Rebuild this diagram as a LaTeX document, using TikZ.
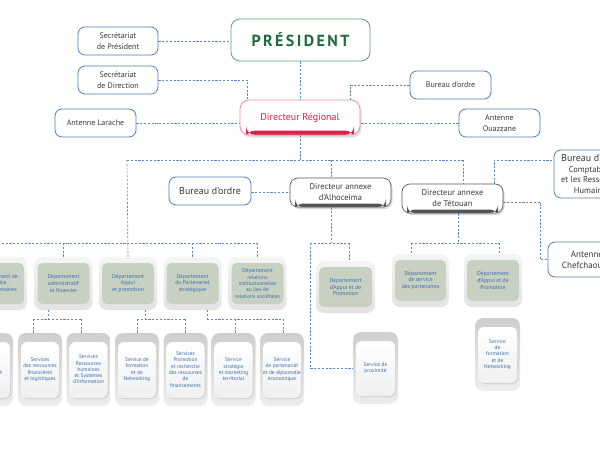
\documentclass[tikz,border=0pt]{standalone}
\usepackage{fontspec}
\setmainfont{PT Sans}
\newfontfamily\presfont[LetterSpace=15]{PT Sans}
\usetikzlibrary{shadows}
\definecolor{connc}{HTML}{5B8BC0}
\definecolor{boxb}{HTML}{4F7FB5}
\definecolor{txtd}{HTML}{3A3A3A}
\definecolor{presg}{HTML}{1B6B3C}
\definecolor{presb}{HTML}{5FA37A}
\definecolor{drred}{HTML}{D8244A}
\definecolor{drpink}{HTML}{EC8FA2}
\definecolor{anx}{HTML}{555555}
\definecolor{deptg}{HTML}{C8D0C2}
\definecolor{dtxt}{HTML}{3C6EA8}
\tikzset{
 conn/.style={draw=connc, line width=0.65pt, dash pattern=on 2.2pt off 1.6pt},
 bluebox/.style={draw=boxb, line width=0.8pt, rounded corners=7pt, fill=white, align=center, text=txtd, font=\fontsize{8}{10.5}\selectfont, inner sep=1pt, minimum width=80pt, minimum height=28pt},
 presstyle/.style={draw=presb, line width=0.8pt, rounded corners=9pt, fill=white, text=presg, font=\presfont\fontsize{16}{18}\selectfont\bfseries, minimum width=139pt, minimum height=42pt},
 drstyle/.style={draw=drpink, line width=0.8pt, rounded corners=9pt, fill=white, text=drred, font=\fontsize{10}{12}\selectfont, minimum width=120pt, minimum height=35pt, drop shadow={opacity=0.25, shadow xshift=1.5pt, shadow yshift=-2.5pt}, path picture={\fill[drred] ([shift={(6pt,0pt)}]path picture bounding box.south west) rectangle ([shift={(-6pt,4.5pt)}]path picture bounding box.south east);}},
 anxstyle/.style={draw=gray!70!black, line width=0.7pt, rounded corners=8pt, fill=white, text=txtd, align=center, font=\fontsize{8.5}{11}\selectfont, minimum width=101pt, minimum height=29pt, drop shadow={opacity=0.3, shadow xshift=1.5pt, shadow yshift=-2pt}, path picture={\fill[anx] ([shift={(5pt,0pt)}]path picture bounding box.south west) rectangle ([shift={(-5pt,3.5pt)}]path picture bounding box.south east);}},
 deptbox/.style={rounded corners=8pt, top color=gray!8, bottom color=gray!22, draw=none, minimum width=58pt, minimum height=53pt, align=center, text=dtxt, font=\fontsize{5.7}{6.6}\selectfont, inner sep=0pt, path picture={\fill[deptg, rounded corners=5pt] ([shift={(3pt,-6pt)}]path picture bounding box.north west) rectangle ([shift={(-3pt,6pt)}]path picture bounding box.south east);}},
 servbox/.style={rounded corners=8pt, top color=gray!38, bottom color=gray!14, draw=none, minimum width=44pt, minimum height=73pt, align=center, text=dtxt, font=\fontsize{5.4}{6.3}\selectfont, inner sep=0pt, path picture={\fill[gray!35, rounded corners=6pt] ([shift={(4pt,-10pt)}]path picture bounding box.north west) rectangle ([shift={(-2pt,7pt)}]path picture bounding box.south east); \shade[top color=white, bottom color=gray!12, rounded corners=6pt] ([shift={(3pt,-9pt)}]path picture bounding box.north west) rectangle ([shift={(-3pt,8pt)}]path picture bounding box.south east);}},
}
\begin{document}
\begin{tikzpicture}[x=1pt,y=-1pt]
\useasboundingbox (0,0) rectangle (600,450);
\fill[white] (0,0) rectangle (600,450);
% top level
\node[presstyle] (pres) at (300.5,40) {PRÉSIDENT};
\node[bluebox] (secp) at (118,41) {Secrétariat\\de Président};
\node[bluebox] (secd) at (118,80) {Secrétariat\\de Direction};
\node[bluebox, minimum width=81pt] (larache) at (95.5,123) {Antenne Larache};
\node[drstyle] (dr) at (300,117.5) {Directeur Régional};
\node[bluebox, minimum width=81pt] (bo1) at (450.5,85) {Bureau d'ordre};
\node[bluebox, minimum width=81pt] (ouaz) at (499.5,123) {Antenne\\Ouazzane};
% second level
\node[bluebox, minimum width=82pt, font=\fontsize{10}{12}\selectfont] (bo2) at (210,191) {Bureau d'ordre};
\node[anxstyle] (alh) at (340.5,192.5) {Directeur annexe\\d'Alhoceima};
\node[anxstyle] (tet) at (452.5,198.5) {Directeur annexe\\de Tétouan};
\node[bluebox, minimum width=76pt, minimum height=48pt, font=\fontsize{8.5}{10.5}\selectfont] (bo3) at (592,174) {{\fontsize{10}{11}\selectfont Bureau d'ordre}\\Comptabilité\\et les Ressources\\Humaines};
\node[bluebox, minimum width=78pt, minimum height=35pt, font=\fontsize{9}{11}\selectfont] (chef) at (587,259.5) {Antenne\\Chefchaouen};
% departments
\node[deptbox] (d1) at (-2,283.5) {Département de\\service\\des partenaires};
\node[deptbox] (d2) at (63.5,283.5) {Département\\administratif\\et financier};
\node[deptbox] (d3) at (128,283.5) {Département\\Appui\\et promotion};
\node[deptbox] (d4) at (192.5,283.5) {Département\\de Partenariat\\stratégique};
\node[deptbox, font=\fontsize{5.4}{6.4}\selectfont] (d5) at (257.5,283.5) {Département\\relations\\institutionnelles\\au lieu de\\relations sociétales};
\node[deptbox, minimum width=59pt, minimum height=52pt] (ad) at (345.5,287) {Département\\d'Appui et de\\Promotion};
\node[deptbox, minimum width=57pt] (ta) at (420.5,280.5) {Département\\de service\\des partenaires};
\node[deptbox] (tb) at (493,280.5) {Département\\d'Appui et de\\Promotion};
% services
\node[servbox] (s1) at (-9,369.5) {Service\\spécialisé};
\node[servbox] (s2) at (40,369.5) {Services\\des ressources\\financières\\et logistiques};
\node[servbox] (s3) at (88.5,369.5) {Services\\Ressources\\humaines\\et Systèmes\\d'information};
\node[servbox] (s4) at (137,369.5) {Service de\\formation\\et de\\Networking};
\node[servbox] (s5) at (185.5,369.5) {Services\\Promotion\\et recherche\\des ressources\\de\\financements};
\node[servbox] (s6) at (233.5,369.5) {Service\\stratégie\\et marketing\\territorial};
\node[servbox] (s7) at (282,369.5) {Service\\de partenariat\\et de diplomatie\\économique};
\node[servbox, minimum width=45pt, minimum height=72pt] (sp) at (375.5,368) {Service de\\proximité};
\node[servbox, minimum width=45pt] (sf) at (497.5,354.5) {Service\\de\\formation\\et de\\Networking};
% coordinates
\coordinate (b1) at (300,160);
\coordinate (b1l) at (127,160);
\coordinate (b1r) at (463,160);
\coordinate (b2) at (127,243);
\coordinate (a1) at (331,243);
\coordinate (a2) at (310,243);
\coordinate (a3) at (349,243);
\coordinate (t1) at (458,243);
\coordinate (t1l) at (411,243);
\coordinate (t1r) at (499,243);
\coordinate (t2) at (494,160);
\coordinate (t3) at (540,202);
\coordinate (e1) at (48,319);
\coordinate (e2) at (33,319);
\coordinate (e3) at (81,319);
\coordinate (f1) at (145,319);
\coordinate (f2) at (137,319);
\coordinate (f3) at (185,319);
\coordinate (g1) at (207,319);
\coordinate (g2) at (235,319);
\coordinate (g3) at (283,319);
% connectors top
\draw[conn] (secp.east) -- (secp.east -| pres.west);
\draw[conn] (pres.south) -- (pres.south |- dr.north);
\draw[conn] (secd.east) -| ([xshift=8pt]dr.north west);
\draw[conn] (bo1.west) -| ([xshift=-10pt]dr.north east);
\draw[conn] (larache.east) -- (larache.east -| dr.west);
\draw[conn] (ouaz.west) -- (ouaz.west -| dr.east);
\draw[conn] (dr.south) -- (b1);
\draw[conn] (b1l) -- (b1r);
\draw[conn] (b1r) -- (b1r |- tet.north);
\draw[conn] (b1 -| a1) -- (alh.north -| a1);
\draw[conn] (b1l) -- (d3.north);
\draw[conn] (alh.west -| bo2.east) -- (alh.west);
% annex connectors
\draw[conn] (alh.south -| a1) -- (a1);
\draw[conn] (a2) -- (a3);
\draw[conn] (a3) -- (a3 |- ad.north);
\draw[conn] (a2) |- (sp.west);
\draw[conn] (tet.south -| t1) -- (t1);
\draw[conn] (t1l) -- (t1r);
\draw[conn] (t1l) -- (t1l |- ta.north);
\draw[conn] (t1r) -- (t1r |- tb.north);
\draw[conn] (tet.north -| t2) -- (t2) -- (t2 -| bo3.west);
\draw[conn] (t3 -| tet.east) -- (t3) |- (chef.west);
% department bus
\draw[conn] (d1.north |- b2) -- (d5.north |- b2);
\draw[conn] (d1.north |- b2) -- (d1.north);
\draw[conn] (d2.north |- b2) -- (d2.north);
\draw[conn] (d4.north |- b2) -- (d4.north);
\draw[conn] (d5.north |- b2) -- (d5.north);
% services bus
\draw[conn] (d2.south -| e1) -- (e1);
\draw[conn] (e2) -- (e3);
\draw[conn] (e2) -- (e2 |- s2.north);
\draw[conn] (e3) -- (e3 |- s3.north);
\draw[conn] (d3.south -| f1) -- (f1);
\draw[conn] (f2) -- (f3);
\draw[conn] (f2) -- (f2 |- s4.north);
\draw[conn] (f3) -- (f3 |- s5.north);
\draw[conn] (d4.south -| g1) -- (g1);
\draw[conn] (g1) -- (g3);
\draw[conn] (g2) -- (g2 |- s6.north);
\draw[conn] (g3) -- (g3 |- s7.north);
\end{tikzpicture}
\end{document}
